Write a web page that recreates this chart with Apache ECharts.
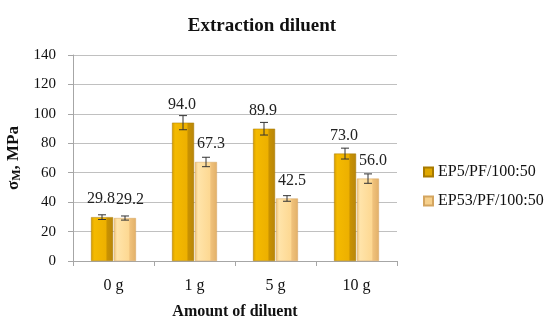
<!DOCTYPE html>
<html><head><meta charset="utf-8">
<script src="https://cdn.jsdelivr.net/npm/echarts@6/dist/echarts.min.js"></script>
<style>html,body{margin:0;padding:0;background:#fff}#c{width:550px;height:323px}</style>
</head><body><div id="c"></div>
<script>
const categories = ['0 g', '1 g', '5 g', '10 g'];
const seriesNames = ['EP5/PF/100:50', 'EP53/PF/100:50'];
const valuesA = [29.8, 94.0, 89.9, 73.0];
const valuesB = [29.2, 67.3, 42.5, 56.0];
const errorsA = [1.6, 4.8, 4.3, 3.7];
const errorsB = [1.4, 3.2, 1.9, 3.2];
const yTicks = [0, 20, 40, 60, 80, 100, 120, 140];

const FONT = 'Liberation Serif';
const chart = echarts.init(document.getElementById('c'));
const BW = 22, GAPPX = 1;

function errData(vals, errs) { return vals.map((v, i) => [i, v, errs[i]]); }
function errSeries(vals, errs, sign) {
  return {
    type: 'custom', silent: true, z: 5,
    data: errData(vals, errs),
    renderItem: function (params, api) {
      const i = api.value(0), v = api.value(1), e = api.value(2);
      const hi = api.coord([i, v + e]);
      const lo = api.coord([i, v - e]);
      const x = hi[0] + sign * (BW / 2 + GAPPX / 2);
      const cap = 4;
      const st = { stroke: '#333', lineWidth: 1 };
      return { type: 'group', children: [
        { type: 'line', shape: { x1: x, y1: hi[1], x2: x, y2: lo[1] }, style: st },
        { type: 'line', shape: { x1: x - cap, y1: hi[1], x2: x + cap, y2: hi[1] }, style: st },
        { type: 'line', shape: { x1: x - cap, y1: lo[1], x2: x + cap, y2: lo[1] }, style: st }
      ]};
    }
  };
}
const gradA = new echarts.graphic.LinearGradient(0, 0, 1, 0, [
  { offset: 0, color: '#D39B00' }, { offset: 0.14, color: '#F4BA00' },
  { offset: 0.68, color: '#EDB000' }, { offset: 0.72, color: '#C99200' }, { offset: 1, color: '#B8860B' }]);
const gradB = new echarts.graphic.LinearGradient(0, 0, 1, 0, [
  { offset: 0, color: '#EDBF72' }, { offset: 0.14, color: '#FFE4AA' },
  { offset: 0.68, color: '#FDD892' }, { offset: 0.72, color: '#F0C27C' }, { offset: 1, color: '#E2B068' }]);
function lbl(dx) {
  return { show: true, position: 'top', distance: 10, offset: [dx, 0], fontFamily: FONT, fontSize: 16, color: '#222', formatter: p => p.value.toFixed(1) };
}

chart.setOption({
  animation: false,
  title: { text: 'Extraction diluent', left: 257, textAlign: 'center', top: 12,
    textStyle: { fontFamily: FONT, fontSize: 19, fontWeight: 'bold', color: '#111' } },
  legend: { orient: 'vertical', left: 418, top: 159, itemWidth: 9, itemHeight: 9, itemGap: 13, icon: 'rect',
    textStyle: { fontFamily: FONT, fontSize: 16, color: '#111' },
    data: [{ name: seriesNames[0], itemStyle: { color: '#E0A800' } }, { name: seriesNames[1], itemStyle: { color: '#F6D08C' } }] },
  grid: { left: 73, right: 153, top: 55, bottom: 62, outerBoundsMode: 'none', containLabel: false },
  xAxis: { type: 'category', data: categories,
    name: 'Amount of diluent', nameLocation: 'middle', nameGap: 43,
    nameTextStyle: { fontFamily: FONT, fontSize: 16, fontWeight: 'bold', color: '#111' },
    axisLine: { lineStyle: { color: '#a6a6a6' } },
    axisTick: { show: true, length: 5, lineStyle: { color: '#a6a6a6' } },
    axisLabel: { fontFamily: FONT, fontSize: 16, color: '#111', margin: 17 } },
  yAxis: { type: 'value', min: 0, max: 140, interval: 20,
    name: '{a|σ}{b|M}{a|, MPa}', nameLocation: 'middle', nameGap: 45, nameRotate: 90,
    nameTextStyle: { rich: {
      a: { fontFamily: FONT, fontSize: 17, fontWeight: 'bold', color: '#111' },
      b: { fontFamily: FONT, fontSize: 12, fontWeight: 'bold', color: '#111', padding: [6, 0, 0, 0] } } },
    axisLine: { show: true, lineStyle: { color: '#a6a6a6' } },
    axisTick: { show: true, length: 5, lineStyle: { color: '#a6a6a6' } },
    splitLine: { lineStyle: { color: '#c0c0c0' } },
    axisLabel: { fontFamily: FONT, fontSize: 15, color: '#111', margin: 17,
      formatter: v => yTicks.includes(v) ? String(v) : '' } },
  series: [
    { name: seriesNames[0], type: 'bar', data: valuesA, barWidth: BW, barGap: '4%',
      itemStyle: { color: gradA, borderColor: '#A87A00', borderWidth: 0.5 }, label: lbl(-1) },
    { name: seriesNames[1], type: 'bar', data: valuesB, barWidth: BW, barGap: '4%',
      itemStyle: { color: gradB, borderColor: '#D4A560', borderWidth: 0.5 }, label: lbl(5) },
    errSeries(valuesA, errorsA, -1),
    errSeries(valuesB, errorsB, 1)
  ]
});
</script></body></html>
